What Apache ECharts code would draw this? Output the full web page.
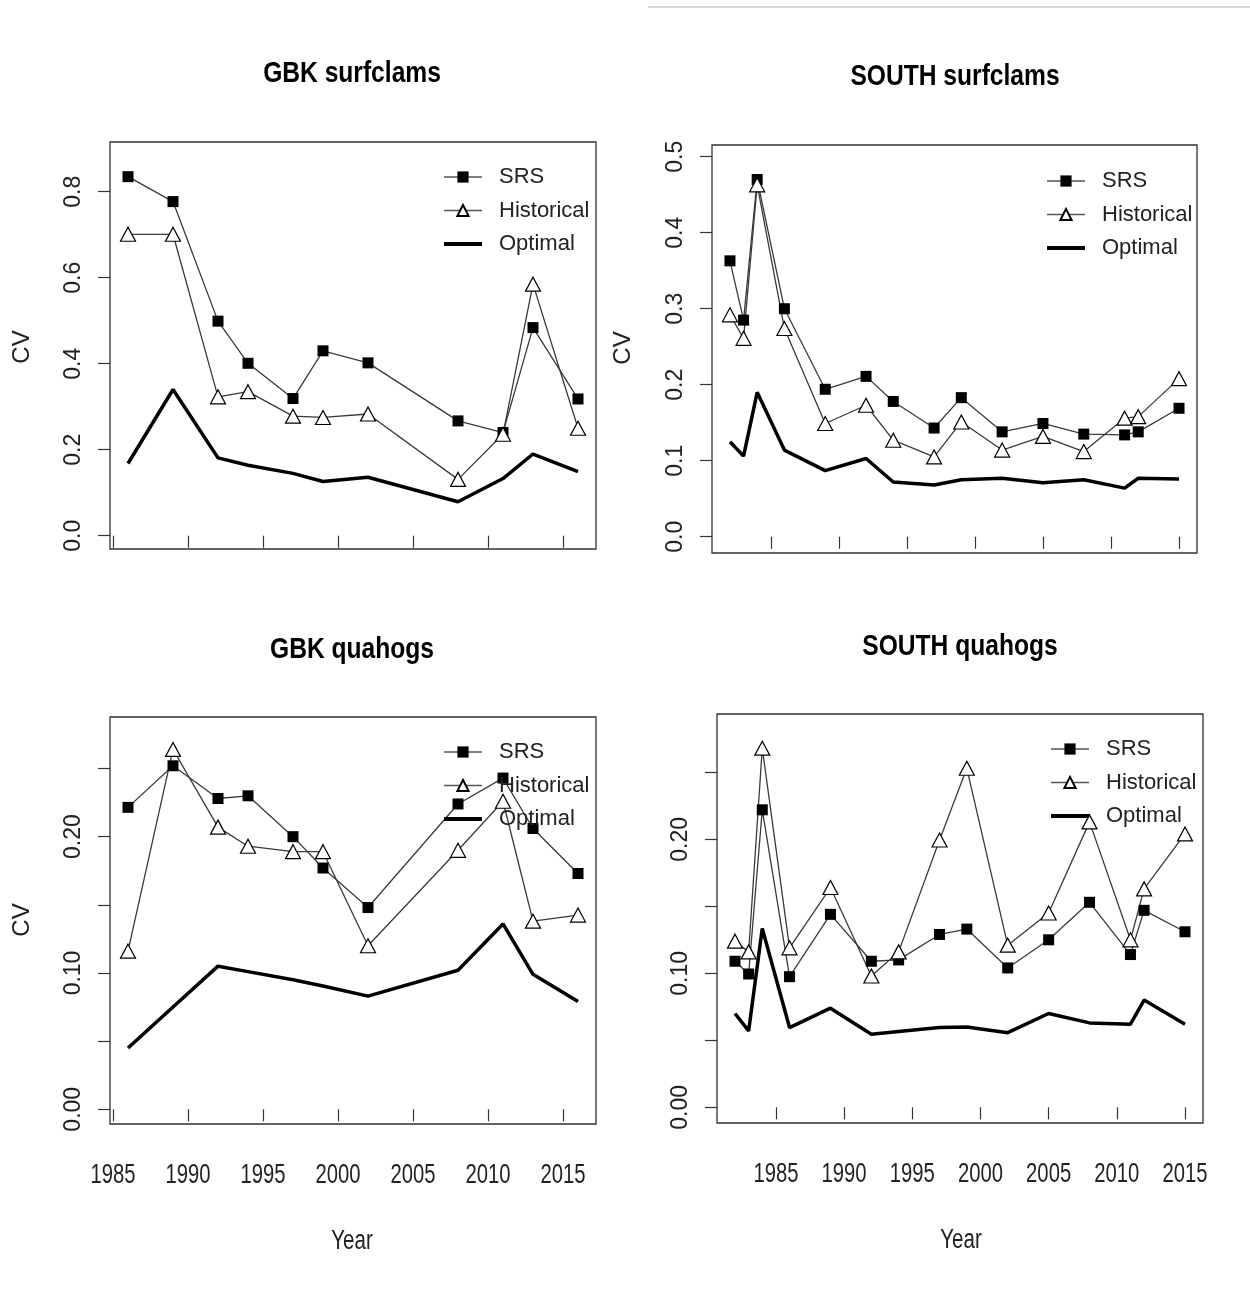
<!DOCTYPE html>
<html>
<head>
<meta charset="utf-8">
<script src="https://cdn.jsdelivr.net/npm/echarts@6/dist/echarts.min.js"></script>
<style>
html,body{margin:0;padding:0;background:#fff;}
#chart{width:1250px;height:1290px;}
</style>
</head>
<body>
<div id="chart"></div>
<script>
// ---------------- DATA ----------------
const panelTitles = ['GBK surfclams', 'SOUTH surfclams', 'GBK quahogs', 'SOUTH quahogs'];
const seriesNames = ['SRS', 'Historical', 'Optimal'];
const xTickYears = [1985, 1990, 1995, 2000, 2005, 2010, 2015];

const gbkYears = [1986, 1989, 1992, 1994, 1997, 1999, 2002, 2008, 2011, 2013, 2016];
const southYears = [1982, 1983, 1984, 1986, 1989, 1992, 1994, 1997, 1999, 2002, 2005, 2008, 2011, 2012, 2015];

const gbkSurfSRS  = [0.835, 0.777, 0.499, 0.401, 0.319, 0.430, 0.402, 0.267, 0.240, 0.484, 0.318];
const gbkSurfHist = [0.701, 0.701, 0.323, 0.335, 0.278, 0.275, 0.283, 0.131, 0.236, 0.585, 0.250];
const gbkSurfOpt  = [0.168, 0.340, 0.181, 0.164, 0.145, 0.126, 0.136, 0.079, 0.133, 0.190, 0.149];

const southSurfSRS  = [0.363, 0.285, 0.470, 0.300, 0.194, 0.211, 0.178, 0.143, 0.183, 0.138, 0.149, 0.135, 0.134, 0.138, 0.169];
const southSurfHist = [0.292, 0.261, 0.463, 0.274, 0.149, 0.173, 0.127, 0.105, 0.151, 0.114, 0.132, 0.112, 0.156, 0.158, 0.208];
const southSurfOpt  = [0.125, 0.106, 0.190, 0.114, 0.087, 0.103, 0.072, 0.068, 0.075, 0.077, 0.071, 0.075, 0.064, 0.077, 0.076];

const gbkQuaSRS  = [0.2215, 0.252, 0.228, 0.230, 0.200, 0.177, 0.148, 0.224, 0.243, 0.206, 0.173];
const gbkQuaHist = [0.116, 0.264, 0.207, 0.193, 0.189, 0.189, 0.120, 0.190, 0.226, 0.138, 0.1425];
const gbkQuaOpt  = [0.045, 0.075, 0.105, 0.101, 0.095, 0.0905, 0.083, 0.102, 0.136, 0.099, 0.079];

const southQuaSRS  = [0.109, 0.0995, 0.222, 0.0975, 0.144, 0.109, 0.110, 0.129, 0.133, 0.104, 0.125, 0.153, 0.114, 0.147, 0.131];
const southQuaHist = [0.124, 0.116, 0.268, 0.119, 0.164, 0.098, 0.116, 0.1995, 0.253, 0.121, 0.145, 0.213, 0.125, 0.163, 0.204];
const southQuaOpt  = [0.070, 0.057, 0.1335, 0.0595, 0.074, 0.0545, 0.0565, 0.0595, 0.060, 0.0557, 0.070, 0.063, 0.062, 0.080, 0.062];

const surfYTicks = [0, 0.2, 0.4, 0.6, 0.8];
const southSurfYTicks = [0, 0.1, 0.2, 0.3, 0.4, 0.5];
const quaYTicks = [0, 0.05, 0.10, 0.15, 0.20, 0.25];
const quaYLabels = [0, 0.10, 0.20];

// ---------------- LAYOUT ----------------
const FONT_R = '"Liberation Sans", Arial, sans-serif';

const panels = [
  { years: gbkYears, srs: gbkSurfSRS, hist: gbkSurfHist, opt: gbkSurfOpt,
    grid: {left: 110, top: 142, width: 486, height: 407},
    x: [1984.8, 2017.2], y: [-0.0309, 0.9156], yTicks: surfYTicks, yLabels: surfYTicks, dec: 1,
    xLabels: false, title: [352, 74], cv: [22, 347], legend: [437, 159] },
  { years: southYears, srs: southSurfSRS, hist: southSurfHist, opt: southSurfOpt,
    grid: {left: 712, top: 145, width: 485, height: 408},
    x: [1980.68, 2016.32], y: [-0.0214, 0.5154], yTicks: southSurfYTicks, yLabels: southSurfYTicks, dec: 1,
    xLabels: false, title: [955, 77], cv: [623, 348], legend: [1040, 163] },
  { years: gbkYears, srs: gbkQuaSRS, hist: gbkQuaHist, opt: gbkQuaOpt,
    grid: {left: 110, top: 717, width: 486, height: 407},
    x: [1984.8, 2017.2], y: [-0.0108, 0.2878], yTicks: quaYTicks, yLabels: quaYLabels, dec: 2,
    xLabels: true, title: [352, 650], cv: [22, 920], legend: [437, 734], year: [352, 1242] },
  { years: southYears, srs: southQuaSRS, hist: southQuaHist, opt: southQuaOpt,
    grid: {left: 717, top: 714, width: 486, height: 409},
    x: [1980.68, 2016.32], y: [-0.0117, 0.2935], yTicks: quaYTicks, yLabels: quaYLabels, dec: 2,
    xLabels: true, title: [960, 647], cv: null, legend: [1044, 731], year: [961, 1241] }
];

const grids = [], xAxes = [], yAxes = [], series = [], legends = [];

panels.forEach((p, i) => {
  grids.push(Object.assign({ show: true, borderColor: '#333', borderWidth: 1.3, backgroundColor: 'transparent' }, p.grid));
  xAxes.push({
    type: 'value', gridIndex: i, min: p.x[0], max: p.x[1], position: 'bottom',
    axisLine: { show: false }, splitLine: { show: false },
    axisTick: { show: true, length: 12, lineStyle: { color: '#333', width: 1.2 }, customValues: xTickYears },
    axisLabel: { show: false }
  });
  yAxes.push({
    type: 'value', gridIndex: i, min: p.y[0], max: p.y[1],
    axisLine: { show: false }, splitLine: { show: false },
    axisTick: { show: true, length: 12, lineStyle: { color: '#333', width: 1.2 }, customValues: p.yTicks },
    axisLabel: { show: true, customValues: p.yLabels, rotate: 90, margin: 25,
      fontFamily: FONT_R, fontSize: 23, color: '#222', formatter: v => v.toFixed(p.dec) }
  });
  const pts = arr => p.years.map((yr, k) => [yr, arr[k]]);
  series.push({
    type: 'line', name: 'SRS', xAxisIndex: i, yAxisIndex: i, data: pts(p.srs),
    symbol: 'rect', symbolSize: 11, itemStyle: { color: '#000' },
    lineStyle: { color: '#3a3a3a', width: 1.3 }, animation: false, silent: true, emphasis: { disabled: true }
  });
  series.push({
    type: 'line', name: 'Historical', xAxisIndex: i, yAxisIndex: i, data: pts(p.hist),
    symbol: 'triangle', symbolSize: [15, 14], itemStyle: { color: '#fff', borderColor: '#000', borderWidth: 1.2 },
    lineStyle: { color: '#3a3a3a', width: 1.3 }, animation: false, silent: true, emphasis: { disabled: true }
  });
  series.push({
    type: 'line', name: 'Optimal', xAxisIndex: i, yAxisIndex: i, data: pts(p.opt),
    symbol: 'none', showSymbol: false, itemStyle: { color: 'rgba(0,0,0,0)', borderWidth: 0 },
    lineStyle: { color: '#000', width: 3.5 },
    animation: false, silent: true, emphasis: { disabled: true }
  });
  legends.push({
    orient: 'vertical', left: p.legend[0], top: p.legend[1],
    data: [
      { name: 'SRS', lineStyle: { color: '#555', width: 1.5 } },
      { name: 'Historical', lineStyle: { color: '#555', width: 1.5 } },
      { name: 'Optimal', lineStyle: { color: '#000', width: 4 } }
    ],
    itemWidth: 38, itemHeight: 14, itemGap: 7.5, selectedMode: false,
    textStyle: { fontFamily: FONT_R, fontSize: 22, color: '#222', lineHeight: 26, padding: [0, 0, 0, 12] }
  });
});

const chart = echarts.init(document.getElementById('chart'), null, { renderer: 'canvas' });
chart.setOption({
  animation: false,
  backgroundColor: '#fff',
  grid: grids, xAxis: xAxes, yAxis: yAxes, series: series, legend: legends
});

// Text elements (titles, axis titles, x tick labels) with narrow rendering like the reference
const graphics = [];
panels.forEach((p, i) => {
  graphics.push({ type: 'text', x: p.title[0], y: p.title[1], scaleX: 0.82,
    style: { text: panelTitles[i], fontFamily: FONT_R, fontWeight: 'bold', fontSize: 30, fill: '#000',
      textAlign: 'center', textVerticalAlign: 'middle' } });
  if (p.cv) graphics.push({ type: 'text', x: p.cv[0], y: p.cv[1], rotation: Math.PI / 2,
    style: { text: 'CV', fontFamily: FONT_R, fontSize: 24, fill: '#222', textAlign: 'center', textVerticalAlign: 'middle' } });
  if (p.year) graphics.push({ type: 'text', x: p.year[0], y: p.year[1], scaleX: 0.76,
    style: { text: 'Year', fontFamily: FONT_R, fontSize: 27, fill: '#222', textAlign: 'center', textVerticalAlign: 'middle' } });
  if (p.xLabels) {
    const yBottom = chart.convertToPixel({ yAxisIndex: i }, p.y[0]);
    xTickYears.forEach(yr => {
      const px = chart.convertToPixel({ xAxisIndex: i }, yr);
      graphics.push({ type: 'text', x: px, y: yBottom + 52, scaleX: 0.75,
        style: { text: String(yr), fontFamily: FONT_R, fontSize: 27, fill: '#222',
          textAlign: 'center', textVerticalAlign: 'middle' } });
    });
  }
});
graphics.push({ type: 'line', shape: { x1: 648, y1: 7, x2: 1250, y2: 7 }, style: { stroke: '#d8d8d8', lineWidth: 2 } });
chart.setOption({ graphic: graphics });
</script>
</body>
</html>
